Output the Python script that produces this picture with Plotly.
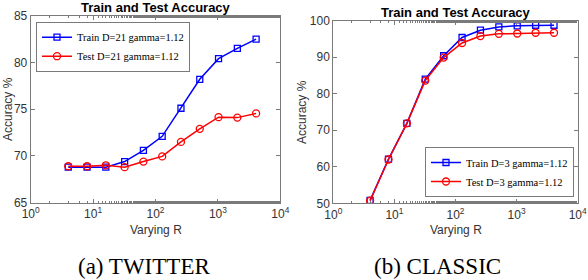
import plotly.graph_objects as go

R = [4, 8, 16, 32, 64, 128, 256, 512, 1024, 2048, 4096]

twitter_train = [68.8, 68.8, 68.8, 69.4, 70.6, 72.1, 75.1, 78.2, 80.4, 81.5, 82.5]
twitter_test = [68.9, 68.9, 69.0, 68.8, 69.4, 69.95, 71.5, 72.9, 74.15, 74.1, 74.55]

classic_train = [50.8, 62.1, 71.9, 84.0, 90.4, 95.4, 97.4, 98.3, 98.6, 98.75, 98.75]
classic_test = [50.7, 62.0, 71.9, 83.6, 89.9, 93.9, 95.8, 96.4, 96.5, 96.7, 96.7]

xtick_vals = [1, 10, 100, 1000, 10000]
xtick_text = ["10<sup>0</sup>", "10<sup>1</sup>", "10<sup>2</sup>", "10<sup>3</sup>", "10<sup>4</sup>"]

W, H = 588, 280
BLUE = "rgb(0,0,255)"
RED = "rgb(255,0,0)"
AX = "#7a7a7a"
TXT = "#333333"
SANS = "Liberation Sans, Arial, sans-serif"
SERIF = "Liberation Serif, Times New Roman, serif"

fig = go.Figure()


def add_pair(train, test, xa, ya, legend, lab_train, lab_test):
    fig.add_trace(go.Scatter(
        x=R, y=train, mode="lines+markers", name=lab_train,
        xaxis=xa, yaxis=ya, legend=legend,
        line=dict(color=BLUE, width=1.5),
        marker=dict(symbol="square-open", size=6, color=BLUE, line=dict(width=1.3)),
    ))
    fig.add_trace(go.Scatter(
        x=R, y=test, mode="lines+markers", name=lab_test,
        xaxis=xa, yaxis=ya, legend=legend,
        line=dict(color=RED, width=1.5),
        marker=dict(symbol="circle-open", size=7, color=RED, line=dict(width=1.3)),
    ))


add_pair(twitter_train, twitter_test, "x", "y", "legend",
         "Train D=21 gamma=1.12", "Test D=21 gamma=1.12")
add_pair(classic_train, classic_test, "x2", "y2", "legend2",
         "Train D=3 gamma=1.12", "Test D=3 gamma=1.12")


def px_x(p):
    return p / W


def px_y(p):
    return 1 - p / H


xcommon = dict(
    type="log", range=[0, 4], tickvals=xtick_vals, ticktext=xtick_text,
    ticks="inside", ticklen=4, tickcolor=AX, showline=True, linecolor=AX,
    linewidth=1, mirror="allticks", showgrid=False, zeroline=False,
    tickfont=dict(family=SANS, size=12, color=TXT), automargin=False,
    minor=dict(ticks="inside", ticklen=2, tickcolor=AX, showgrid=False),
)
ycommon = dict(
    ticks="inside", ticklen=4, tickcolor=AX, showline=True, linecolor=AX,
    linewidth=1, mirror="allticks", showgrid=False, zeroline=False,
    tickfont=dict(family=SANS, size=12, color=TXT), automargin=False,
)

legfont = dict(family=SERIF, size=10.5, color="black")

fig.update_layout(
    width=W, height=H, margin=dict(l=0, r=0, t=0, b=0, autoexpand=False),
    paper_bgcolor="white", plot_bgcolor="white",
    xaxis=dict(domain=[px_x(30.7), px_x(280.3)], anchor="y", **xcommon),
    yaxis=dict(domain=[px_y(202.7), px_y(15.7)], anchor="x", range=[65, 85],
               tickvals=[65, 70, 75, 80, 85], **ycommon),
    xaxis2=dict(domain=[px_x(333.3), px_x(577.7)], anchor="y2", **xcommon),
    yaxis2=dict(domain=[px_y(203.3), px_y(20.7)], anchor="x2", range=[50, 100],
                tickvals=[50, 60, 70, 80, 90, 100], **ycommon),
    legend=dict(x=px_x(36), y=px_y(21.7), xanchor="left", yanchor="top",
                bgcolor="white", bordercolor=AX, borderwidth=1,
                font=legfont, itemwidth=30, tracegroupgap=0),
    legend2=dict(x=px_x(574), y=px_y(197), xanchor="right", yanchor="bottom",
                 bgcolor="white", bordercolor=AX, borderwidth=1,
                 font=legfont, itemwidth=30, tracegroupgap=0),
    showlegend=True,
)

ann = []
# titles
ann.append(dict(text="<b>Train and Test Accuracy</b>", x=px_x(155.5), y=px_y(7),
                font=dict(family=SANS, size=13, color="black")))
ann.append(dict(text="<b>Train and Test Accuracy</b>", x=px_x(455.5), y=px_y(12.3),
                font=dict(family=SANS, size=13, color="black")))
# x titles
ann.append(dict(text="Varying R", x=px_x(155.5), y=px_y(230),
                font=dict(family=SANS, size=12, color=TXT)))
ann.append(dict(text="Varying R", x=px_x(455.5), y=px_y(230),
                font=dict(family=SANS, size=12, color=TXT)))
# y titles
ann.append(dict(text="Accuracy %", x=px_x(8), y=px_y(109), textangle=-90,
                font=dict(family=SANS, size=12, color=TXT)))
ann.append(dict(text="Accuracy %", x=px_x(302), y=px_y(112), textangle=-90,
                font=dict(family=SANS, size=12, color=TXT)))
# captions
ann.append(dict(text="(a) TWITTER", x=px_x(144), y=px_y(266.5),
                font=dict(family=SERIF, size=23, color="black")))
ann.append(dict(text="(b) CLASSIC", x=px_x(437.5), y=px_y(266.5),
                font=dict(family=SERIF, size=23, color="black")))

for a in ann:
    a.update(xref="paper", yref="paper", showarrow=False,
             xanchor="center", yanchor="middle")
fig.update_layout(annotations=ann)

fig.write_html(
    "out.html",
    config={"displayModeBar": False},
    post_script="document.body.style.margin='0';document.body.style.overflow='hidden';",
)
